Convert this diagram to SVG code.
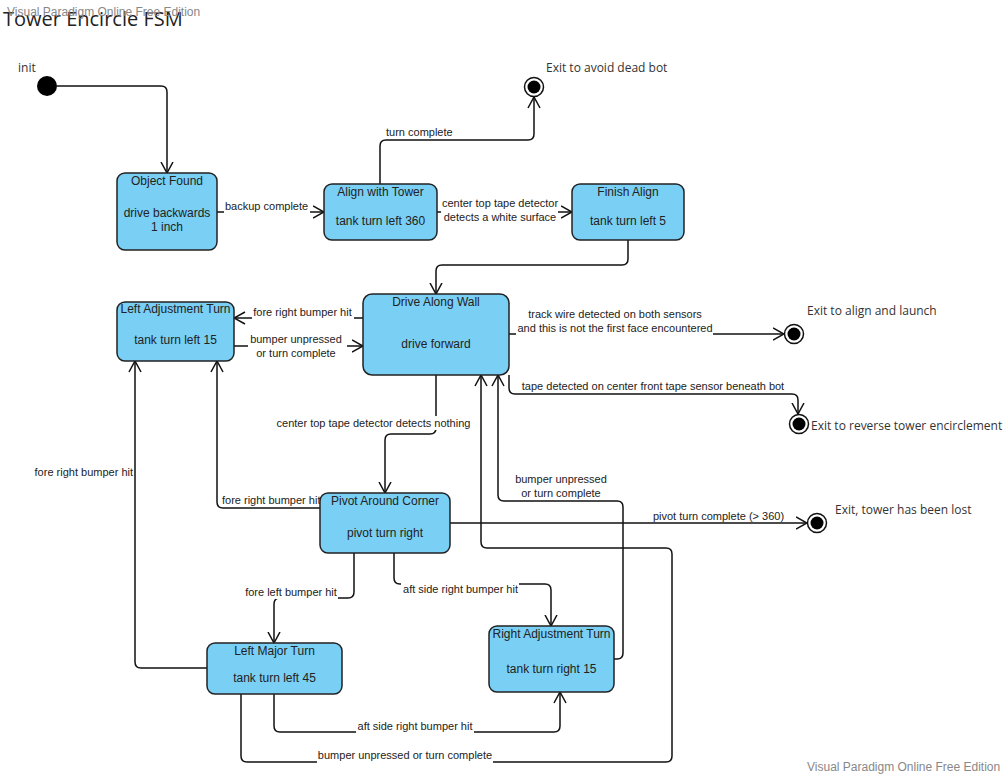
<svg xmlns="http://www.w3.org/2000/svg" width="1005" height="776" viewBox="0 0 1005 776">
<style>
.bg{fill:#ffffff}
.node rect{fill:#7acff4;stroke:#222;stroke-width:1.5}
.nt{font-family:"Liberation Sans",Arial,sans-serif;font-size:12px;fill:#222;text-anchor:middle}
.lbl{font-family:"Liberation Sans",Arial,sans-serif;font-size:11px;fill:#222}
.mid{text-anchor:middle}
.end{text-anchor:end}
.ex{font-family:"Open Sans","Noto Sans",sans-serif;font-size:12px;fill:#333}
.conn path{fill:none;stroke:#111;stroke-width:1.5;marker-end:url(#arr)}
.lb{fill:#ffffff}
.wm{font-family:"Liberation Sans",Arial,sans-serif;font-size:12px;fill:#888}
.outer{fill:#fff;stroke:#111;stroke-width:1.5}
.inner{fill:#000}
</style>
<defs>
<marker id="arr" markerUnits="userSpaceOnUse" viewBox="0 0 12 14" refX="11.5" refY="7" markerWidth="12" markerHeight="14" orient="auto">
<path d="M0.5,1 L11.5,7 L0.5,13" fill="none" stroke="#111" stroke-width="1.5"/>
</marker>
</defs>
<rect class="bg" x="0" y="0" width="1005" height="776"/>
<text x="3" y="26" font-family="'Open Sans','Noto Sans',sans-serif" font-size="20" fill="#222">Tower Encircle FSM</text>
<text class="wm" x="7" y="16">Visual Paradigm Online Free Edition</text>
<text class="wm" x="807" y="771">Visual Paradigm Online Free Edition</text>

<g id="connectors" class="conn">
<path d="M57,86 H161 Q167,86 167,92 V173"/>
<path d="M217,212 H324"/>
<path d="M380,184 V146 Q380,140 386,140 H528 Q534,140 534,134 V97"/>
<path d="M437,212 H572"/>
<path d="M628,240 V259 Q628,265 622,265 H442 Q436,265 436,271 V294"/>
<path d="M363,318 H234"/>
<path d="M234,346 H363"/>
<path d="M509,334 H784"/>
<path d="M509,375 V388 Q509,394 515,394 H792 Q798,394 798,400 V414"/>
<path d="M436,375 V428 Q436,434 430,434 H391 Q385,434 385,440 V493"/>
<path d="M320,508 H223 Q217,508 217,502 V361"/>
<path d="M450,523 H807"/>
<path d="M354,553 V592 Q354,598 348,598 H280 Q274,598 274,604 V643"/>
<path d="M394,553 V578 Q394,584 400,584 H545 Q551,584 551,590 V626"/>
<path d="M207,668 H141 Q135,668 135,662 V361"/>
<path d="M274,694 V726 Q274,732 280,732 H554 Q560,732 560,726 V692"/>
<path d="M241,694 V756 Q241,762 247,762 H666 Q672,762 672,756 V554 Q672,548 666,548 H487 Q481,548 481,542 V375"/>
<path d="M614,659 H617 Q623,659 623,653 V507 Q623,501 617,501 H504 Q498,501 498,495 V375"/>
</g>

<g id="labels">
<rect class="lb" x="224" y="201" width="86" height="13"/>
<text class="lbl" x="225" y="210">backup complete</text>
<text class="lbl" x="386" y="136">turn complete</text>
<rect class="lb" x="441" y="198" width="117" height="26"/>
<text class="lbl mid" x="500" y="207">center top tape detector</text>
<text class="lbl mid" x="500" y="221">detects a white surface</text>
<rect class="lb" x="252" y="306" width="102" height="13"/>
<text class="lbl mid" x="302.5" y="316">fore right bumper hit</text>
<rect class="lb" x="248" y="333" width="99" height="27"/>
<text class="lbl mid" x="296" y="343">bumper unpressed</text>
<text class="lbl mid" x="296" y="357">or turn complete</text>
<rect class="lb" x="516" y="308" width="197" height="27"/>
<text class="lbl mid" x="615" y="318">track wire detected on both sensors</text>
<text class="lbl mid" x="615" y="332">and this is not the first face encountered</text>
<text class="lbl mid" x="653" y="390">tape detected on center front tape sensor beneath bot</text>
<rect class="lb" x="276" y="416" width="196" height="14"/>
<text class="lbl mid" x="373.5" y="427">center top tape detector detects nothing</text>
<text class="lbl end" x="133" y="476">fore right bumper hit</text>
<text class="lbl" x="222" y="504">fore right bumper hit</text>
<text class="lbl mid" x="718.5" y="520">pivot turn complete (&gt; 360)</text>
<rect class="lb" x="244" y="586" width="94" height="13"/>
<text class="lbl mid" x="291" y="596">fore left bumper hit</text>
<rect class="lb" x="401" y="582" width="118" height="13"/>
<text class="lbl mid" x="460.5" y="593">aft side right bumper hit</text>
<text class="lbl mid" x="561" y="483">bumper unpressed</text>
<text class="lbl mid" x="561" y="497">or turn complete</text>
<rect class="lb" x="356" y="719" width="118" height="14"/>
<text class="lbl mid" x="415" y="730">aft side right bumper hit</text>
<rect class="lb" x="317" y="749" width="176" height="14"/>
<text class="lbl mid" x="405" y="759">bumper unpressed or turn complete</text>
</g>

<g id="init">
<circle cx="47" cy="86" r="10" fill="#000"/>
<text class="ex" x="18" y="72">init</text>
</g>

<g id="object-found" class="node">
<rect x="117" y="173" width="100" height="77" rx="8"/>
<text class="nt" x="167" y="185">Object Found</text>
<text class="nt" x="167" y="217">drive backwards</text>
<text class="nt" x="167" y="231">1 inch</text>
</g>

<g id="align-with-tower" class="node">
<rect x="324" y="184" width="113" height="56" rx="8"/>
<text class="nt" x="380.5" y="196">Align with Tower</text>
<text class="nt" x="380.5" y="225">tank turn left 360</text>
</g>

<g id="finish-align" class="node">
<rect x="572" y="184" width="112" height="56" rx="8"/>
<text class="nt" x="628" y="196">Finish Align</text>
<text class="nt" x="628" y="225">tank turn left 5</text>
</g>

<g id="drive-along-wall" class="node">
<rect x="363" y="294" width="146" height="81" rx="9"/>
<text class="nt" x="436" y="306">Drive Along Wall</text>
<text class="nt" x="436" y="348">drive forward</text>
</g>

<g id="left-adjustment-turn" class="node">
<rect x="117" y="302" width="117" height="59" rx="8"/>
<text class="nt" x="175.5" y="313">Left Adjustment Turn</text>
<text class="nt" x="175.5" y="344">tank turn left 15</text>
</g>

<g id="pivot-around-corner" class="node">
<rect x="320" y="493" width="130" height="60" rx="8"/>
<text class="nt" x="385" y="505">Pivot Around Corner</text>
<text class="nt" x="385" y="537">pivot turn right</text>
</g>

<g id="left-major-turn" class="node">
<rect x="207" y="643" width="135" height="51" rx="8"/>
<text class="nt" x="274.5" y="655">Left Major Turn</text>
<text class="nt" x="274.5" y="682">tank turn left 45</text>
</g>

<g id="right-adjustment-turn" class="node">
<rect x="489" y="626" width="125" height="66" rx="8"/>
<text class="nt" x="551.5" y="638">Right Adjustment Turn</text>
<text class="nt" x="551.5" y="673">tank turn right 15</text>
</g>

<g id="exit-dead-bot">
<circle class="outer" cx="534" cy="87" r="9.5"/>
<circle class="inner" cx="534" cy="87" r="6.5"/>
<text class="ex" x="546" y="72">Exit to avoid dead bot</text>
</g>

<g id="exit-align-launch">
<circle class="outer" cx="794" cy="334" r="9.5"/>
<circle class="inner" cx="794" cy="334" r="6.5"/>
<text class="ex" x="807" y="315">Exit to align and launch</text>
</g>

<g id="exit-reverse">
<circle class="outer" cx="799" cy="424" r="9.5"/>
<circle class="inner" cx="799" cy="424" r="6.5"/>
<text class="ex" x="811" y="430">Exit to reverse tower encirclement</text>
</g>

<g id="exit-lost">
<circle class="outer" cx="817" cy="523" r="9.5"/>
<circle class="inner" cx="817" cy="523" r="6.5"/>
<text class="ex" x="835" y="514">Exit, tower has been lost</text>
</g>
</svg>
